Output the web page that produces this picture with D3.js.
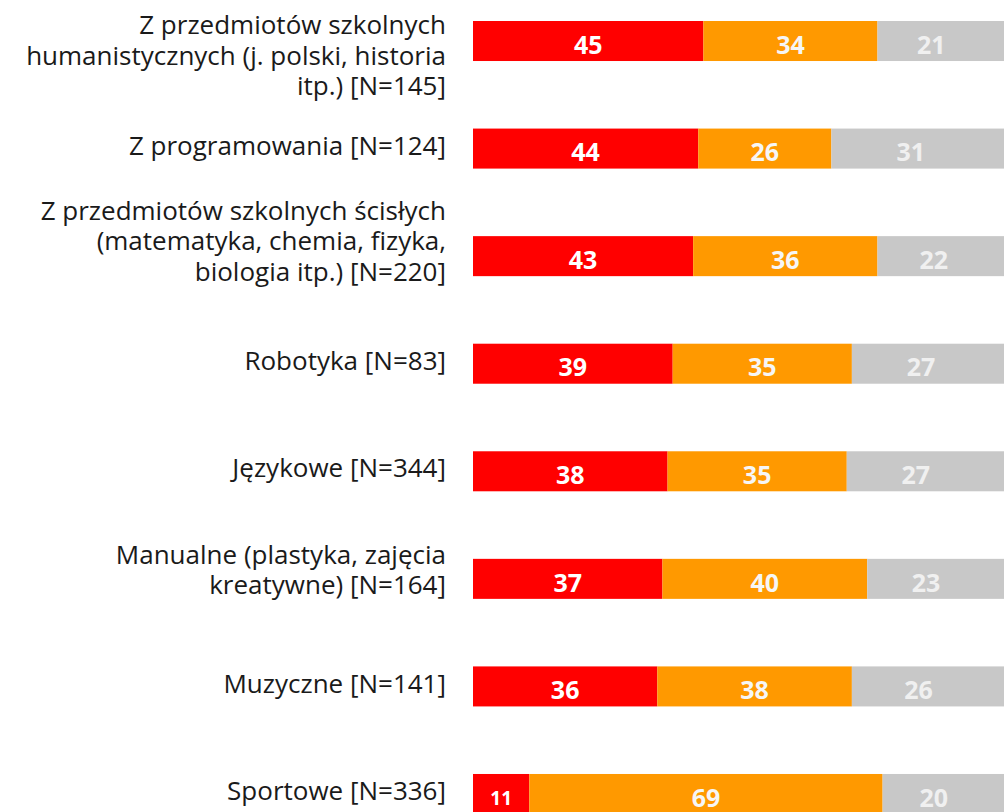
<!DOCTYPE html>
<html>
<head>
  <meta charset="utf-8">
  <style>
    body { margin: 0; background: #fff; }
    .label { font-family: "Open Sans", sans-serif; font-size: 26px; fill: #1a1a1a; }
    .value { font-family: "Open Sans", sans-serif; font-weight: bold; font-size: 25px; }
  </style>
</head>
<body>
  <svg width="1004" height="812"></svg>
  <script src="https://cdn.jsdelivr.net/npm/d3@7"></script>
  <script>

  // category labels, already split into lines as in the picture
  var categories = [
    ["Z przedmiotów szkolnych", "humanistycznych (j. polski, historia", "itp.) [N=145]"],
    ["Z programowania [N=124]"],
    ["Z przedmiotów szkolnych ścisłych", "(matematyka, chemia, fizyka,", "biologia itp.) [N=220]"],
    ["Robotyka [N=83]"],
    ["Językowe [N=344]"],
    ["Manualne (plastyka, zajęcia", "kreatywne) [N=164]"],
    ["Muzyczne [N=141]"],
    ["Sportowe [N=336]"]
  ];

  var seriesKeys = ["s1", "s2", "s3"];
  var s1Values = [45, 44, 43, 39, 38, 37, 36, 11];
  var s2Values = [34, 26, 36, 35, 35, 40, 38, 69];
  var s3Values = [21, 31, 22, 27, 27, 23, 26, 20];

  var colors = ["#ff0000", "#ff9900", "#c8c8c8"];
  var textColors = ["#ffffff", "#f6f6f6", "#f0f0f0"];

  var svg = d3.select("svg"),
      width = +svg.attr("width"),
      height = +svg.attr("height");

  var rows = categories.map(function(c, i) {
    return {id: i, s1: s1Values[i], s2: s2Values[i], s3: s3Values[i]};
  });

  var x = d3.scaleLinear().domain([0, 100]).range([473, 985]);
  var y = d3.scaleBand()
    .domain(rows.map(function(d) { return d.id; }))
    .range([21, 814])
    .paddingInner(0.628)
    .paddingOuter(0);

  var stack = d3.stack().keys(seriesKeys)(rows);

  var layer = svg.selectAll(".layer")
    .data(stack)
    .enter().append("g")
    .attr("class", "layer")
    .attr("fill", function(d, i) { return colors[i]; });

  // last segment runs off the right edge like in the original
  layer.selectAll("rect")
    .data(function(d) { return d; })
    .enter().append("rect")
    .attr("x", function(d) { return x(d[0]); })
    .attr("y", function(d) { return y(d.data.id); })
    .attr("width", function(d) {
      return d[1] >= 99 ? width - x(d[0]) : x(d[1]) - x(d[0]);
    })
    .attr("height", y.bandwidth());

  layer.each(function(s, si) {
    d3.select(this).selectAll("text")
      .data(s)
      .enter().append("text")
      .attr("class", "value")
      .attr("text-anchor", "middle")
      .attr("x", function(d) { return (x(d[0]) + x(d[1])) / 2; })
      .attr("y", function(d) { return y(d.data.id) + y.bandwidth() / 2 + 4; })
      .attr("dy", "0.35em")
      .style("font-size", function(d) { return (x(d[1]) - x(d[0])) < 70 ? "19px" : null; })
      .attr("fill", textColors[si])
      .text(function(d) { return d[1] - d[0]; });
  });

  // category labels, right aligned left of the bars
  var lineH = 30.5;
  var labels = svg.selectAll(".label")
    .data(categories)
    .enter().append("text")
    .attr("class", "label")
    .attr("text-anchor", "end")
    .attr("transform", function(lines, i) {
      var n = lines.length;
      var mid = y(i) + y.bandwidth() / 2 - 3 - 6 * (n - 1);
      var top = mid - (n - 1) * lineH / 2;
      top = Math.max(top, 25);
      return "translate(446," + top + ")";
    });

  labels.selectAll("tspan")
    .data(function(d) { return d; })
    .enter().append("tspan")
    .attr("x", 0)
    .attr("y", function(d, i) { return i * lineH; })
    .attr("dy", "0.35em")
    .text(function(d) { return d; });

  </script>
</body>
</html>
